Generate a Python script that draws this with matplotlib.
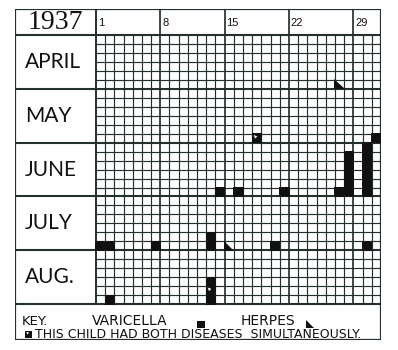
"""Chicken-pox / herpes calendar chart, 1937 (grid of days x months)."""
import matplotlib
matplotlib.use("Agg")
import matplotlib.pyplot as plt
from matplotlib.patches import Rectangle, Polygon

YEAR = "1937"
MONTHS = ["APRIL", "MAY", "JUNE", "JULY", "AUG."]
ROWS_PER_MONTH = 6
N_DAYS = 31
WEEK_STARTS = [1, 8, 15, 22, 29]

# one entry per filled cell: month index, day, level (0 = bottom row of month), kind
# kind: V = varicella, H = herpes, B = both diseases
CELL_MONTH = [0, 1, 1, 2, 2, 2, 2, 2, 2, 2, 2, 2, 2, 2, 2, 2, 2, 2,
              3, 3, 3, 3, 3, 3, 3, 3, 4, 4, 4, 4]
CELL_DAY = [27, 18, 31, 14, 16, 21, 27, 28, 28, 28, 28, 28, 30, 30, 30, 30, 30, 30,
            1, 2, 7, 13, 13, 15, 20, 30, 2, 13, 13, 13]
CELL_LEVEL = [0, 0, 0, 0, 0, 0, 0, 0, 1, 2, 3, 4, 0, 1, 2, 3, 4, 5,
              0, 0, 0, 0, 1, 0, 0, 0, 0, 0, 1, 2]
CELL_KIND = ["H", "B", "V", "V", "V", "V", "V", "V", "V", "V", "V", "V", "V", "V", "V", "V", "V", "V",
             "V", "V", "V", "V", "V", "H", "V", "V", "V", "V", "B", "V"]

KEY_LINE1 = ["KEY.", "VARICELLA", "HERPES"]
KEY_LINE2 = "THIS CHILD HAD BOTH DISEASES  SIMULTANEOUSLY."

LINE = "#243030"
INK = "#111111"
SANS = ["Lato", "DejaVu Sans"]
KEYFONT = ["DejaVu Sans"]

LABEL_COL = 8.8   # width of the month-name column, in day units
HEADER = 2.9      # header height, in row units
KEY_H = 4.0       # key box height, in row units
N_ROWS = ROWS_PER_MONTH * len(MONTHS)


def draw_mark(ax, x, y, kind, s=1.0, pad=0.0):
    x0, y0, w = x - pad, y - pad, s + 2 * pad
    if kind == "H":
        ax.add_patch(Polygon([(x0, y0), (x0, y0 + w), (x0 + w, y0 + w)],
                             closed=True, fc=INK, ec="none", zorder=4))
        return
    ax.add_patch(Rectangle((x0, y0), w, w, fc=INK, ec="none", zorder=4))
    if kind == "B":
        ax.add_patch(Polygon([(x + 0.15 * s, y + 0.15 * s), (x + 0.55 * s, y + 0.3 * s),
                              (x + 0.3 * s, y + 0.55 * s)],
                             closed=True, fc="white", ec="none", zorder=5))


def main():
    fig = plt.figure(figsize=(3.98, 3.5), dpi=100)
    ax = fig.add_axes([15 / 398, 1 - 340 / 350, 366 / 398, 331 / 350])
    x_left, x_right = 1 - LABEL_COL, N_DAYS + 1
    y_top, y_bot = -HEADER, N_ROWS + KEY_H
    ax.set_xlim(x_left, x_right)
    ax.set_ylim(y_bot, y_top)
    ax.axis("off")

    # outer frame
    ax.add_patch(Rectangle((x_left, y_top), x_right - x_left, y_bot - y_top,
                           fill=False, ec=LINE, lw=1.6, zorder=3))

    # grid: thin day / row lines
    for d in range(2, N_DAYS + 1):
        if d not in WEEK_STARTS:
            ax.plot([d, d], [0, N_ROWS], color=LINE, lw=0.85, zorder=2)
    for r in range(1, N_ROWS):
        if r % ROWS_PER_MONTH:
            ax.plot([1, x_right], [r, r], color=LINE, lw=0.85, zorder=2)

    # heavier week and month lines
    for d in WEEK_STARTS:
        ax.plot([d, d], [y_top, N_ROWS], color=LINE, lw=1.4 if d == 1 else 1.25, zorder=3)
    for r in range(0, N_ROWS + 1, ROWS_PER_MONTH):
        ax.plot([x_left, x_right], [r, r], color=LINE, lw=1.5, zorder=3)

    # header
    ax.text(1 - LABEL_COL / 2, -HEADER / 2, YEAR, ha="center", va="center",
            fontsize=20, family=["Liberation Serif", "DejaVu Serif"], color=INK)
    for d in WEEK_STARTS:
        ax.text(d + 0.2, -1.3, str(d), ha="left", va="center", fontsize=8,
                family=["Liberation Sans Narrow", "Liberation Sans", "DejaVu Sans"], color=INK)

    # month names
    for m, name in enumerate(MONTHS):
        ax.text(x_left + 1.1, m * ROWS_PER_MONTH + ROWS_PER_MONTH / 2, name,
                ha="left", va="center", fontsize=15, family=SANS, color=INK)

    # cases
    for m, d, lev, kind in zip(CELL_MONTH, CELL_DAY, CELL_LEVEL, CELL_KIND):
        row = m * ROWS_PER_MONTH + (ROWS_PER_MONTH - 1 - lev)
        draw_mark(ax, d, row, kind, pad=0.06)

    # key
    y1, y2 = N_ROWS + 2.28, N_ROWS + 3.8
    ax.text(x_left + 0.75, y1, KEY_LINE1[0], ha="left", va="baseline", fontsize=9.5,
            family=KEYFONT, color=INK)
    ax.text(0.6, y1, KEY_LINE1[1], ha="left", va="baseline", fontsize=10,
            family=KEYFONT, color=INK)
    draw_mark(ax, 12.0, N_ROWS + 1.85, "V", s=0.85)
    ax.text(16.7, y1, KEY_LINE1[2], ha="left", va="baseline", fontsize=10,
            family=KEYFONT, color=INK)
    draw_mark(ax, 23.85, N_ROWS + 1.75, "H", s=0.9)
    draw_mark(ax, x_left + 1.1, N_ROWS + 2.95, "B", s=0.8)
    ax.text(x_left + 2.2, y2, KEY_LINE2, ha="left", va="baseline", fontsize=9,
            family=KEYFONT, color=INK)

    fig.savefig("out.png", dpi=100, facecolor="white")
    plt.close(fig)


if __name__ == "__main__":
    main()
